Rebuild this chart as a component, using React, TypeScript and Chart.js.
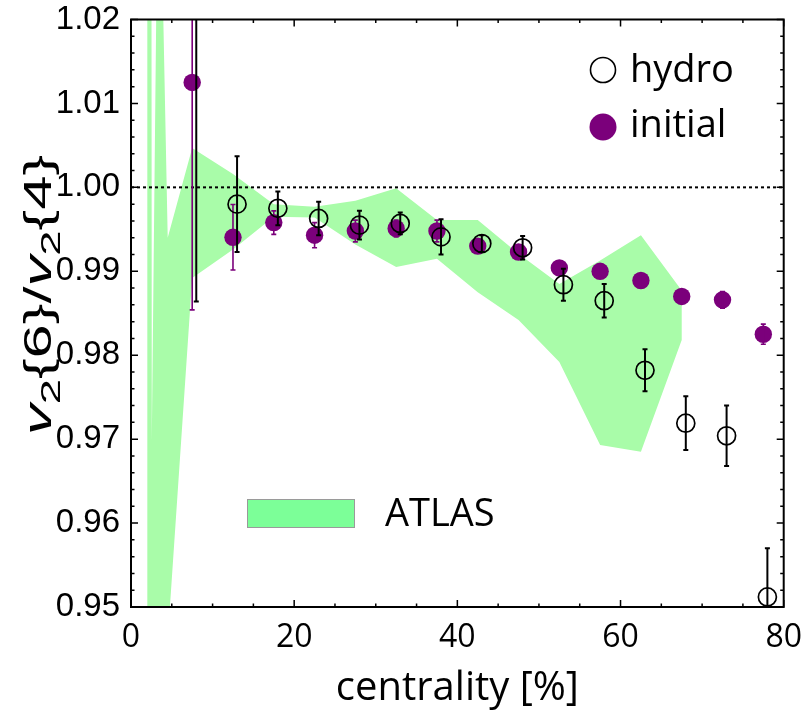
import React, { useEffect, useRef } from 'react';
import { Chart, registerables } from 'chart.js';

Chart.register(...registerables);

// ---- data ----
const hydroX = [8, 13, 18, 23, 28, 33, 38, 43, 48, 53, 58, 63, 68, 73, 78];
const hydroY = [1.0285, 0.998, 0.9975, 0.9963, 0.9955, 0.9957, 0.9941, 0.9933, 0.9928, 0.9884, 0.9865, 0.9782, 0.9719, 0.9704, 0.9512];
const hydroErr = [0.0421, 0.0057, 0.002, 0.002, 0.0017, 0.0013, 0.0021, 0.001, 0.0014, 0.0019, 0.002, 0.0025, 0.0032, 0.0036, 0.0058];

const initialX = [7.5, 12.5, 17.5, 22.5, 27.5, 32.5, 37.5, 42.5, 47.5, 52.5, 57.5, 62.5, 67.5, 72.5, 77.5];
const initialY = [1.0125, 0.99405, 0.9958, 0.9943, 0.9948, 0.9951, 0.9948, 0.993, 0.9923, 0.9904, 0.99, 0.9889, 0.987, 0.9866, 0.9825];
const initialErr = [0.0271, 0.0039, 0.0014, 0.0015, 0.0013, 0.001, 0.0013, 0.0008, 0.0008, 0.0006, 0.0006, 0.0006, 0.0006, 0.001, 0.0012];

// ATLAS band (upper / lower edge)
const atlasX = [7.5, 12.5, 17.5, 22.5, 27.5, 32.5, 37.5, 42.5, 47.5, 52.5, 57.5, 62.5, 67.5];
const atlasHigh = [1.0047, 1.0016, 0.998, 0.9977, 0.9984, 0.9999, 0.9961, 0.9961, 0.9921, 0.9885, 0.9913, 0.9943, 0.9877];
const atlasLow = [0.9892, 0.9926, 0.9965, 0.9964, 0.9932, 0.9905, 0.9915, 0.9875, 0.9842, 0.9792, 0.9693, 0.9685, 0.9818];
// most central bins (mostly beyond the y range)
const atlasCentralHighX = [2.0, 2.5, 2.55, 3.3, 3.55, 4.5];
const atlasCentralHigh = [1.04, 1.04, 0.97, 1.04, 1.04, 0.994];
const atlasCentralLowX = [4.07, 2.0];
const atlasCentralLow = [0.94, 0.93];

const refLevel = [1.0];
const xMajorTicks = [0, 20, 40, 60, 80];
const xMinorStep = 5;
const yMajorStep = 0.01;
const yMinorStep = 0.002;
const xRange = [0, 80];
const yRange = [0.95, 1.02];

const PURPLE = '#7B007B';
const BAND = '#A9FCA9';
const SANS = '"Liberation Sans", Arial, sans-serif';
const UI = '"Open Sans", "Noto Sans", sans-serif';

const bandPoints = [
  ...atlasCentralHighX.map((x, i) => ({ x, y: atlasCentralHigh[i] })),
  ...atlasX.map((x, i) => ({ x, y: atlasHigh[i] })),
  ...atlasX.map((x, i) => ({ x, y: atlasLow[i] })).reverse(),
  ...atlasCentralLowX.map((x, i) => ({ x, y: atlasCentralLow[i] })),
];

function drawErrorBars(chart: any, xs: number[], ys: number[], es: number[], color: string, lw: number) {
  const { ctx, chartArea: a, scales } = chart;
  const sx = scales.x, sy = scales.y;
  ctx.save();
  ctx.beginPath();
  ctx.rect(a.left, a.top, a.right - a.left, a.bottom - a.top);
  ctx.clip();
  ctx.strokeStyle = color;
  ctx.lineWidth = lw;
  for (let i = 0; i < xs.length; i++) {
    const px = sx.getPixelForValue(xs[i]);
    const t = sy.getPixelForValue(ys[i] + es[i]);
    const b = sy.getPixelForValue(ys[i] - es[i]);
    ctx.beginPath();
    ctx.moveTo(px, t); ctx.lineTo(px, b);
    ctx.moveTo(px - 2.5, t); ctx.lineTo(px + 2.5, t);
    ctx.moveTo(px - 2.5, b); ctx.lineTo(px + 2.5, b);
    ctx.stroke();
  }
  ctx.restore();
}

const decor = {
  id: 'decor',
  afterDatasetDraw(chart: any, args: any) {
    const ds = chart.data.datasets[args.index];
    const { ctx, chartArea: a, scales } = chart;
    if (ds.label === 'ATLAS') {
      ctx.save();
      ctx.strokeStyle = '#000';
      ctx.lineWidth = 2;
      ctx.setLineDash([3, 3]);
      for (const v of refLevel) {
        const py = scales.y.getPixelForValue(v);
        ctx.beginPath();
        ctx.moveTo(a.left, py);
        ctx.lineTo(a.right, py);
        ctx.stroke();
      }
      ctx.restore();
    } else if (ds.label === 'initial') {
      drawErrorBars(chart, initialX, initialY, initialErr, PURPLE, 1.6);
    } else if (ds.label === 'hydro') {
      drawErrorBars(chart, hydroX, hydroY, hydroErr, '#000', 2);
    }
  },
  afterDraw(chart: any) {
    const { ctx, chartArea: a, scales } = chart;
    const sx = scales.x, sy = scales.y;
    ctx.save();
    // frame
    ctx.strokeStyle = '#000';
    ctx.lineWidth = 2;
    ctx.strokeRect(a.left, a.top, a.right - a.left, a.bottom - a.top);
    // ticks
    ctx.lineWidth = 1.5;
    ctx.beginPath();
    for (let v = xRange[0]; v <= xRange[1] + 1e-9; v += xMinorStep) {
      const major = xMajorTicks.includes(v);
      const L = major ? 7 : 3.5;
      const px = sx.getPixelForValue(v);
      ctx.moveTo(px, a.bottom); ctx.lineTo(px, a.bottom - L);
      ctx.moveTo(px, a.top); ctx.lineTo(px, a.top + L);
    }
    const nMinor = Math.round((yRange[1] - yRange[0]) / yMinorStep);
    const per = Math.round(yMajorStep / yMinorStep);
    for (let k = 0; k <= nMinor; k++) {
      const v = yRange[0] + k * yMinorStep;
      const L = k % per === 0 ? 7 : 3.5;
      const py = sy.getPixelForValue(v);
      ctx.moveTo(a.left, py); ctx.lineTo(a.left + L, py);
      ctx.moveTo(a.right, py); ctx.lineTo(a.right - L, py);
    }
    ctx.stroke();

    // x title
    ctx.fillStyle = '#000';
    ctx.font = `40px ${UI}`;
    ctx.textAlign = 'center';
    ctx.textBaseline = 'alphabetic';
    ctx.fillText('centrality [%]', (a.left + a.right) / 2, 700);

    // y title (rotated)
    const big = 38, small = 28;
    const parts = [
      { t: 'v', f: `italic ${big}px ${SANS}`, dy: 0 },
      { t: '2', f: `${small}px ${SANS}`, dy: 9 },
      { t: '{6}/', f: `${big}px ${SANS}`, dy: 0 },
      { t: 'v', f: `italic ${big}px ${SANS}`, dy: 0 },
      { t: '2', f: `${small}px ${SANS}`, dy: 9 },
      { t: '{4}', f: `${big}px ${SANS}`, dy: 0 },
    ];
    let total = 0;
    const widths: number[] = [];
    for (const p of parts) { ctx.font = p.f; const w = ctx.measureText(p.t).width; widths.push(w); total += w; }
    const targetLen = 280;
    const k = targetLen / total;
    ctx.translate(51, 295);
    ctx.rotate(-Math.PI / 2);
    ctx.scale(k, 1);
    ctx.textAlign = 'left';
    let u = -total / 2;
    parts.forEach((p, i) => { ctx.font = p.f; ctx.fillText(p.t, u, p.dy); u += widths[i]; });
    ctx.restore();

    // legend
    ctx.save();
    ctx.fillStyle = '#000';
    ctx.font = `38px ${UI}`;
    ctx.textAlign = 'left';
    ctx.textBaseline = 'alphabetic';
    ctx.strokeStyle = '#000';
    ctx.lineWidth = 1.6;
    ctx.beginPath(); ctx.arc(603, 70, 12.5, 0, Math.PI * 2); ctx.stroke();
    ctx.fillText('hydro', 630, 82);
    ctx.fillStyle = PURPLE;
    ctx.beginPath(); ctx.arc(603, 127, 13.5, 0, Math.PI * 2); ctx.fill();
    ctx.fillStyle = '#000';
    ctx.fillText('initial', 630, 137);
    ctx.fillStyle = '#7CFF98';
    ctx.fillRect(247.5, 499.5, 107, 28);
    ctx.strokeStyle = '#9a9a9a';
    ctx.lineWidth = 1;
    ctx.strokeRect(247.5, 499.5, 107, 28);
    ctx.fillStyle = '#000';
    ctx.fillText('ATLAS', 385, 526);
    ctx.restore();
  },
};

export default function App() {
  const ref = useRef<HTMLCanvasElement | null>(null);
  useEffect(() => {
    document.body.style.margin = '0';
    const canvas = ref.current!;
    const chart = new Chart(canvas, {
      type: 'scatter',
      data: {
        datasets: [
          {
            label: 'hydro',
            data: hydroX.map((x, i) => ({ x, y: hydroY[i] })),
            pointRadius: 9,
            pointHoverRadius: 9,
            pointBorderWidth: 1.7,
            pointBorderColor: '#000',
            pointBackgroundColor: 'rgba(0,0,0,0)',
            order: 1,
            clip: 0,
          } as any,
          {
            label: 'initial',
            data: initialX.map((x, i) => ({ x, y: initialY[i] })),
            pointRadius: 8.7,
            pointHoverRadius: 8.7,
            pointBorderWidth: 0,
            pointBackgroundColor: PURPLE,
            pointBorderColor: PURPLE,
            order: 2,
            clip: 0,
          } as any,
          {
            type: 'line',
            label: 'ATLAS',
            data: bandPoints,
            fill: 'shape',
            backgroundColor: BAND,
            borderColor: 'rgba(0,0,0,0)',
            borderWidth: 0,
            pointRadius: 0,
            tension: 0,
            order: 3,
            clip: 0,
          } as any,
        ],
      },
      options: {
        responsive: false,
        animation: false,
        events: [],
        layout: { padding: { top: 19, right: 20, left: 0, bottom: 0 } },
        plugins: { legend: { display: false }, tooltip: { enabled: false } },
        scales: {
          x: {
            type: 'linear',
            min: xRange[0],
            max: xRange[1],
            grid: { display: false },
            border: { display: false },
            ticks: {
              stepSize: 20,
              color: '#000',
              font: { family: UI, size: 32, lineHeight: 1.2 },
              padding: 4,
              maxRotation: 0,
            },
            afterFit: (s: any) => { s.height = 120; },
          },
          y: {
            type: 'linear',
            min: yRange[0],
            max: yRange[1],
            grid: { display: false },
            border: { display: false },
            ticks: {
              stepSize: yMajorStep,
              color: '#000',
              font: { family: SANS, size: 33, lineHeight: 1 },
              padding: 3,
              callback: (v: any) => Number(v).toFixed(2),
            },
            afterFit: (s: any) => { s.width = 131; },
          },
        },
      },
      plugins: [decor],
    });
    return () => chart.destroy();
  }, []);
  return <canvas ref={ref} width={806} height={727} style={{ display: 'block' }} />;
}
